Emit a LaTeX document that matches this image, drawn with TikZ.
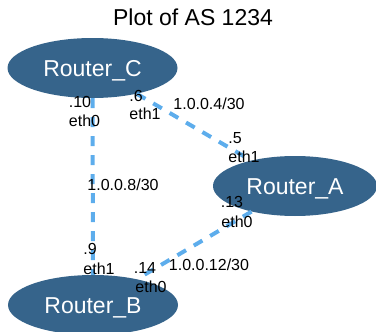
\documentclass[tikz,border=0pt]{standalone}
\usepackage{fontspec}
\setmainfont{Liberation Sans}
\usetikzlibrary{shapes.geometric}
\definecolor{routerfill}{RGB}{54,100,139}
\definecolor{linkblue}{RGB}{93,173,236}
\tikzset{
  router/.style={ellipse, fill=routerfill, text=white, inner sep=0pt,
    minimum width=170pt, minimum height=60pt,
    font=\fontsize{23}{27}\selectfont, text height=16.5pt, text depth=0pt},
  link/.style={draw=linkblue, line width=4pt, dash pattern=on 10pt off 9pt},
  lbl/.style={inner sep=0pt, font=\fontsize{16}{19}\selectfont,
    text height=11.5pt, text depth=0pt}
}
\begin{document}
\begin{tikzpicture}[x=1pt, y=-1pt]
\useasboundingbox (0,0) rectangle (376,332);
% routers
\node[router] (C) at (92.5,68) {Router\_C};
\node[router, minimum width=164pt] (A) at (295,186) {Router\_A};
\node[router] (B) at (93,305) {Router\_B};
% title
\node[inner sep=0pt, font=\fontsize{23}{27}\selectfont, text height=16.5pt, text depth=0pt] (title) at (193,17) {Plot of AS 1234};
% links
\draw[link] (C) -- (B);
\draw[link] (C) -- (A);
\draw[link] (A) -- (B);
% C--B link labels
\node[lbl] (c10) at (80,102) {.10};
\node[lbl] (ceth0) at (84.5,121) {eth0};
\node[lbl] (net8) at (123,185) {1.0.0.8/30};
\node[lbl] (b9) at (90,249) {.9};
\node[lbl] (beth1) at (99,269) {eth1};
% C--A link labels
\node[lbl] (c6) at (136,96) {.6};
\node[lbl] (ceth1) at (145,114) {eth1};
\node[lbl] (net4) at (209,104) {1.0.0.4/30};
\node[lbl] (a5) at (235,138) {.5};
\node[lbl] (aeth1) at (244,157) {eth1};
% A--B link labels
\node[lbl] (a13) at (232,202) {.13};
\node[lbl] (aeth0) at (237,222) {eth0};
\node[lbl] (net12) at (209,265) {1.0.0.12/30};
\node[lbl] (b14) at (145,268) {.14};
\node[lbl] (beth0) at (151,287) {eth0};
\end{tikzpicture}
\end{document}
